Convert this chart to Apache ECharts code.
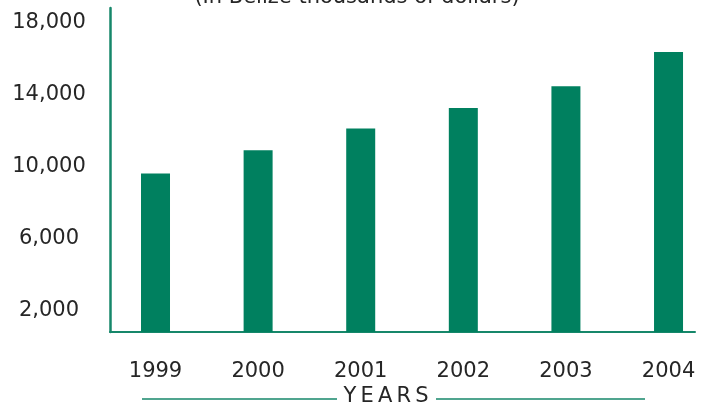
<!DOCTYPE html>
<html>
<head>
<meta charset="utf-8">
<script src="https://cdn.jsdelivr.net/npm/echarts@6/dist/echarts.min.js"></script>
<style>
  html, body { margin: 0; padding: 0; background: #ffffff; }
  #chart { width: 704px; height: 406px; }
</style>
</head>
<body>
<div id="chart"></div>
<script>
// Annual values, in Belize thousands of dollars
const years = ['1999', '2000', '2001', '2002', '2003', '2004'];
const values = [9600, 10900, 12100, 13250, 14450, 16350];
const yTickLabels = [2000, 6000, 10000, 14000, 18000];

const BAR = '#00805f';
const AXIS = '#16876a';
const TEXT = '#262626';
const FONT = '"DejaVu Sans", Verdana, sans-serif';

const chart = echarts.init(document.getElementById('chart'), null, { renderer: 'canvas' });

const idx = years.map((_, i) => i);

chart.setOption({
  animation: false,
  backgroundColor: '#ffffff',
  grid: { left: 110, right: 9, top: 8, bottom: 74, containLabel: false },
  xAxis: {
    type: 'value',
    min: -0.4435,
    max: 5.258,
    splitLine: { show: false },
    axisTick: { show: false },
    axisLine: { show: true, onZero: false, lineStyle: { color: AXIS, width: 2 } },
    axisLabel: {
      customValues: idx,
      formatter: v => years[Math.round(v)] || '',
      color: TEXT,
      fontFamily: FONT,
      fontSize: 21,
      margin: 29
    }
  },
  yAxis: {
    type: 'value',
    min: 800,
    max: 18800,
    splitLine: { show: false },
    axisTick: { show: false },
    axisLine: { show: true, onZero: false, lineStyle: { color: AXIS, width: 2.5 } },
    axisLabel: {
      customValues: yTickLabels,
      formatter: v => v.toLocaleString('en-US'),
      color: TEXT,
      fontFamily: FONT,
      fontSize: 21,
      align: 'center',
      margin: 61
    }
  },
  series: [{
    type: 'bar',
    barWidth: 29,
    itemStyle: { color: BAR },
    data: values.map((v, i) => [i, v])
  }],
  graphic: [
    {
      type: 'text',
      style: {
        text: '(In Belize thousands of dollars)',
        x: 357, y: -2,
        align: 'center',
        verticalAlign: 'middle',
        fill: TEXT,
        font: '21px ' + FONT
      }
    },
    {
      type: 'text',
      style: {
        text: 'Y\u2009E\u2009A\u2009R\u2009S',
        x: 386, y: 397,
        align: 'center',
        verticalAlign: 'middle',
        fill: TEXT,
        font: '21px ' + FONT
      }
    },
    {
      type: 'line',
      shape: { x1: 142, y1: 399, x2: 337, y2: 399 },
      style: { stroke: AXIS, lineWidth: 1.5 }
    },
    {
      type: 'line',
      shape: { x1: 436, y1: 399, x2: 645, y2: 399 },
      style: { stroke: AXIS, lineWidth: 1.5 }
    }
  ]
});
</script>
</body>
</html>
